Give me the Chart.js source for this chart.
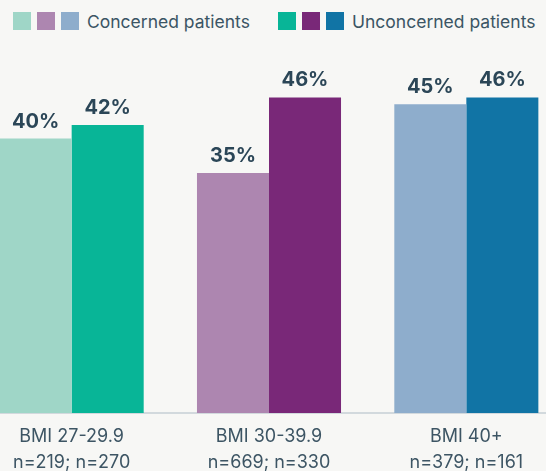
<!DOCTYPE html>
<html>
<head>
<meta charset="utf-8">
<script src="https://cdn.jsdelivr.net/npm/chart.js@4/dist/chart.umd.min.js"></script>
<style>
  html, body { margin: 0; padding: 0; }
  body { width: 546px; height: 471px; overflow: hidden; position: relative; background: #f7f7f5; font-family: Inter, sans-serif; }
  #legend { position: absolute; top: 0; left: 0; width: 546px; height: 40px; }
  .item { position: absolute; top: 9px; display: flex; align-items: center; height: 24px; color: #3b5564; font-size: 17.5px; }
  .box { width: 18px; height: 18px; margin-right: 6px; }
  #wrap { position: absolute; left: -27px; top: 0; width: 592px; height: 471px; }
</style>
</head>
<body>
<div id="legend"></div>
<div id="wrap"><canvas id="ctx"></canvas></div>
<script>
const categories = ["BMI 27-29.9", "BMI 30-39.9", "BMI 40+"];
const sampleSizes = ["n=219; n=270", "n=669; n=330", "n=379; n=161"];
const seriesNames = ["Concerned patients", "Unconcerned patients"];
const concerned = [40, 35, 45];
const unconcerned = [42, 46, 46];
const concernedColors = ["#9fd6c7", "#ad86b0", "#8eadcc"];
const unconcernedColors = ["#08b597", "#792878", "#1174a5"];

// legend: three swatches per series, then its name
const legend = document.getElementById("legend");
const legendLeft = [13, 278];
[concernedColors, unconcernedColors].forEach((colors, i) => {
    var item = document.createElement("div");
    item.className = "item";
    item.style.left = legendLeft[i] + "px";
    colors.forEach(c => {
        var box = document.createElement("span");
        box.className = "box";
        box.style.background = c;
        item.appendChild(box);
    });
    var label = document.createElement("span");
    label.textContent = seriesNames[i];
    label.style.marginLeft = "2px";
    item.appendChild(label);
    legend.appendChild(item);
});

// percent labels above each bar
const valueLabels = {
    id: "valueLabels",
    afterDatasetsDraw(chart) {
        var c = chart.ctx;
        c.save();
        c.font = "bold 20px Inter";
        c.fillStyle = "#2b4657";
        c.textAlign = "center";
        c.textBaseline = "alphabetic";
        chart.data.datasets.forEach((ds, i) => {
            chart.getDatasetMeta(i).data.forEach((bar, j) => {
                c.fillText(ds.data[j] + "%", bar.x, bar.y - 11);
            });
        });
        c.restore();
    }
};

new Chart("ctx", {
    type: "bar",
    data: {
        labels: categories.map((c, i) => [c, sampleSizes[i]]),
        datasets: [{
            label: seriesNames[0],
            data: concerned,
            backgroundColor: concernedColors
        }, {
            label: seriesNames[1],
            data: unconcerned,
            backgroundColor: unconcernedColors
        }]
    },
    plugins: [valueLabels],
    options: {
        responsive: true,
        maintainAspectRatio: false,
        animation: false,
        layout: { padding: { top: 70, left: 0, right: 0, bottom: 0 } },
        categoryPercentage: 0.73,
        barPercentage: 1,
        plugins: { legend: { display: false }, tooltip: { enabled: false } },
        scales: {
            x: {
                grid: { display: false, drawTicks: false },
                border: { display: true, color: "#d2d9dd", width: 2 },
                ticks: {
                    color: "#3d5564",
                    font: { family: "Inter", size: 18, lineHeight: 1.48 },
                    padding: 10,
                    maxRotation: 0
                },
                afterFit(scale) { scale.height = 58; }
            },
            y: {
                display: false,
                min: 0,
                max: 50
            }
        }
    }
});
</script>
</body>
</html>
